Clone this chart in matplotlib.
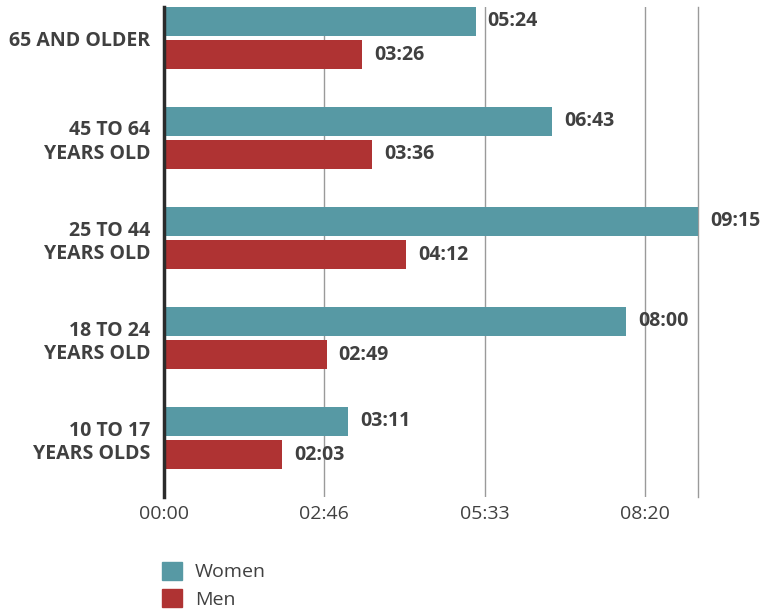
import matplotlib
matplotlib.use("Agg")
import matplotlib.pyplot as plt
import matplotlib.ticker as mticker
from matplotlib.patches import Patch
import numpy as np

plt.rcParams['font.family'] = ['Open Sans', 'DejaVu Sans']

categories = ["10 TO 17\nYEARS OLDS", "18 TO 24\nYEARS OLD", "25 TO 44\nYEARS OLD",
              "45 TO 64\nYEARS OLD", "65 AND OLDER"]
women = ["03:11", "08:00", "09:15", "06:43", "05:24"]
men = ["02:03", "02:49", "04:12", "03:36", "03:26"]
tick_values = [0, 10000, 20000, 30000]

def to_sec(s):
    h, m = s.split(":")
    return int(h) * 3600 + int(m) * 60

w_sec = np.array([to_sec(v) for v in women])
m_sec = np.array([to_sec(v) for v in men])

teal = "#5799A4"
red = "#AF3333"
txt = "#404040"

fig = plt.figure(figsize=(7.64, 6.09), dpi=100)
W, H = 764, 609
ax = fig.add_axes([164 / W, 1 - 497 / H, (698 - 164) / W, (497 - 7) / H])

y = np.arange(len(categories))
bh = 0.29
off = 0.165
ax.barh(y + off, w_sec, height=bh, color=teal, zorder=3)
ax.barh(y - off, m_sec, height=bh, color=red, zorder=3)

xmax = max(w_sec.max(), m_sec.max())
ax.set_xlim(0, xmax)
ax.set_ylim(-0.59, 4.31)

for yi, v, s in zip(y, w_sec, women):
    ax.annotate(s, (v, yi + off), xytext=(12, 0), textcoords="offset pixels",
                va="center", ha="left", fontsize=14, fontweight="bold", color=txt)
for yi, v, s in zip(y, m_sec, men):
    ax.annotate(s, (v, yi - off), xytext=(12, 0), textcoords="offset pixels",
                va="center", ha="left", fontsize=14, fontweight="bold", color=txt)

def fmt(x, pos):
    x = int(round(x))
    return "%02d:%02d" % (x // 3600, (x % 3600) // 60)

ax.set_xticks(tick_values)
ax.xaxis.set_major_formatter(mticker.FuncFormatter(fmt))
ax.set_yticks(y)
ax.set_yticklabels(categories, fontsize=14, fontweight="bold", color=txt,
                   linespacing=1.25, multialignment="right")
ax.tick_params(axis="both", length=0)
ax.tick_params(axis="y", pad=10)
ax.tick_params(axis="x", pad=6, labelsize=14, labelcolor=txt)

ax.grid(axis="x", color="#9a9a9a", linewidth=1.0, zorder=0)
ax.set_axisbelow(True)
for sp in ["top", "bottom"]:
    ax.spines[sp].set_visible(False)
ax.spines["left"].set_color("#2b2b2b")
ax.spines["left"].set_linewidth(2.5)
ax.spines["left"].set_zorder(4)
ax.spines["right"].set_color("#9a9a9a")
ax.spines["right"].set_linewidth(1.0)

handles = [Patch(color=teal, label="Women"), Patch(color=red, label="Men")]
leg = fig.legend(handles=handles, loc="upper left", bbox_to_anchor=(156 / W, 1 - 556 / H),
                 frameon=False, fontsize=14, handlelength=1.05, handleheight=1.05,
                 handletextpad=0.65, labelspacing=0.38, borderaxespad=0, borderpad=0.3)
for t in leg.get_texts():
    t.set_color(txt)

fig.savefig("out.png", dpi=100)
